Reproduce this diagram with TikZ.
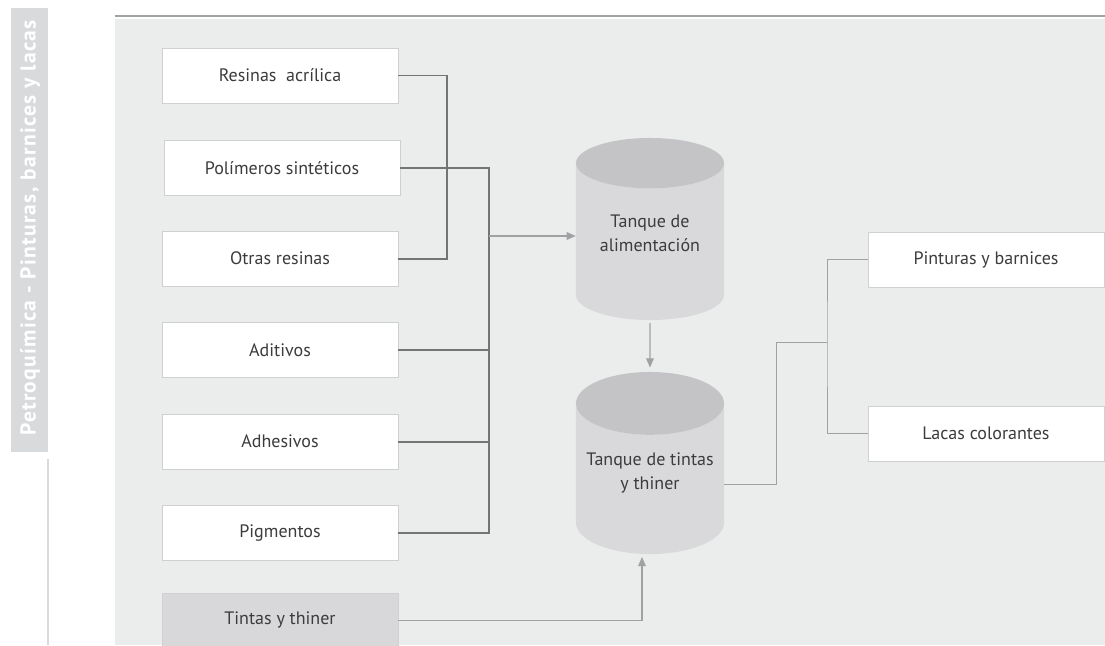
\documentclass[tikz,border=0pt]{standalone}
\usepackage{fontspec}
\setmainfont{PT Sans}
\newfontfamily\sidefont[LetterSpace=6]{PT Sans Bold}
\usetikzlibrary{arrows.meta,shapes.geometric,positioning}
\definecolor{panel}{HTML}{EBECEC}
\definecolor{sidebar}{HTML}{D9DADB}
\definecolor{ink}{HTML}{3C3C3E}
\definecolor{boxline}{HTML}{CFD0D1}
\definecolor{feedline}{HTML}{737476}
\definecolor{outline}{HTML}{A0A1A3}
\definecolor{tankbody}{HTML}{D9D9DB}
\definecolor{tanktop}{HTML}{C4C4C6}
\definecolor{inkbox}{HTML}{D8D8DA}
\tikzset{%
  >={Triangle[width=5.5pt,length=6.5pt]},
  % Specifications for style of nodes:
        base/.style = {rectangle, draw=boxline, fill=white,
                       minimum width=5.9cm, minimum height=1.375cm,
                       text centered, text=ink, font=\fontsize{12.8}{15.5}\selectfont},
   inkinput/.style = {base, fill=inkbox},
       tank/.style = {cylinder, shape border rotate=90, aspect=0.46,
                      cylinder uses custom fill, cylinder body fill=tankbody,
                      cylinder end fill=tanktop, draw=none, anchor=shape center,
                      minimum width=3.7cm, minimum height=4.55cm,
                      align=center, text=ink, font=\fontsize{12.8}{17}\selectfont},
       feed/.style = {draw=feedline, line width=1.3pt},
       flow/.style = {draw=outline, line width=0.8pt},
     output/.style = {draw=outline, line width=0.7pt},
}
\begin{document}
\begin{tikzpicture}[x=0.025cm, y=-0.025cm, node distance=2.2875cm]
\useasboundingbox (0,0) rectangle (1105,645);
% page frame
\fill[panel] (115,19) rectangle (1105,645);
\draw[outline, line width=1.4pt] (115,16) -- (1105,16);
\fill[sidebar] (11,8) rectangle (48,452);
\node (chapter) [rotate=90, text=white, font=\sidefont\fontsize{15.3}{17}\selectfont]
  at (30,228) {Petroquímica - Pinturas, barnices y lacas};
\draw[sidebar, line width=1.4pt] (48,459) -- (48,645);
% Specification of nodes (position, etc.)
\node (resinas)   [base]                       at (280,75.5) {Resinas\ \ acrílica};
\node (polimeros) [base, below of=resinas, xshift=0.5mm, yshift=-0.25mm] {Polímeros sintéticos};
\node (otras)     [base, below of=resinas, yshift=-2.29cm]           {Otras resinas};
\node (aditivos)  [base, below of=otras]       {Aditivos};
\node (adhesivos) [base, below of=aditivos]    {Adhesivos};
\node (pigmentos) [base, below of=adhesivos]   {Pigmentos};
\node (tintas)    [inkinput, below of=pigmentos, yshift=0.11cm] {Tintas y thiner};
\node (tank1)     [tank, text depth=18pt] at (650,229) {Tanque de\\alimentación};
\node (tank2)     [tank, text depth=19pt] at (650,463) {Tanque de tintas\\y thiner};
\node (pinturas)  [base] at (986,259.5)        {Pinturas y barnices};
\node (lacas)     [base, below of=pinturas, node distance=4.35cm] {Lacas colorantes};
% Specification of lines between nodes specified above
\coordinate (joint) at (489,236);
\coordinate (inlet) at (642,557);
\coordinate (split) at (827,342);
\draw[feed] (resinas.east) -- ++(49,0) |- (otras.east);
\draw[feed] (polimeros.east) -| (joint) |- (pigmentos.east);
\draw[feed] (aditivos.east) -- (aditivos.east -| joint);
\draw[feed] (adhesivos.east) -- (adhesivos.east -| joint);
\draw[flow, ->] (joint) -- (joint -| tank1.west);
\draw[flow, ->, shorten <=2pt, shorten >=3pt] (tank1.south) -- (tank2.north);
\draw[flow, ->] (tintas.east) -| (inlet);
\draw[output] (tank2.east) -- ++(52,0) |- (split);
\draw[output] (pinturas.west) -| (split) |- (lacas.west);
\end{tikzpicture}
\end{document}
